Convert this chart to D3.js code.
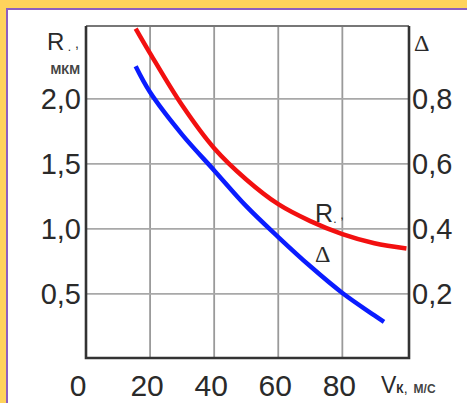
<!DOCTYPE html>
<html>
<head>
<meta charset="utf-8">
<script src="https://cdn.jsdelivr.net/npm/d3@7"></script>
<style>
    body { margin: 0; background: #ffd35c; }
    svg { display: block; }
    svg text { font-family: "Liberation Sans", Arial, sans-serif; fill: #2a2a2a; }
</style>
</head>
<body>
<svg id="chart"></svg>
<script>
// values
let speed = [15.5, 20, 30, 40, 50, 60, 70, 80, 90, 100];
let roughness = [2.54, 2.35, 1.95, 1.62, 1.38, 1.19, 1.06, 0.96, 0.89, 0.85];

let speedDelta = [15.5, 20, 30, 40, 50, 60, 70, 80, 90, 93];
let delta = [0.90, 0.82, 0.69, 0.58, 0.47, 0.375, 0.285, 0.203, 0.134, 0.114];

let xTicks = [0, 20, 40, 60, 80];
let leftTicks = [0.5, 1.0, 1.5, 2.0];
let rightTicks = [0.2, 0.4, 0.6, 0.8];

let width = 467;
let height = 403;

let svg = d3.select("#chart")
    .attr("width", width)
    .attr("height", height);

// white panel with purple edge
svg.append("rect")
    .attr("x", 7)
    .attr("y", 9)
    .attr("width", width)
    .attr("height", height)
    .attr("fill", "white")
    .attr("stroke", "#8d5fc0")
    .attr("stroke-width", 2);

let x = d3.scaleLinear().domain([0, 100.8]).range([86, 409]);
let yLeft = d3.scaleLinear().domain([0, 2.56]).range([359, 26]);
let yRight = d3.scaleLinear().domain([0, 2.56 / 2.5]).range([359, 26]);

let plotTop = yLeft(2.56);
let plotBottom = 358;
let plotLeft = x(0);
let plotRight = 409;

// GRID
svg.append("g")
    .selectAll("line")
    .data(xTicks.filter(d => d > 0))
    .enter()
    .append("line")
    .attr("x1", d => x(d))
    .attr("x2", d => x(d))
    .attr("y1", plotTop)
    .attr("y2", plotBottom)
    .attr("stroke", "#9a9a9a")
    .attr("stroke-width", 1.8);

svg.append("g")
    .selectAll("line")
    .data(leftTicks)
    .enter()
    .append("line")
    .attr("x1", plotLeft)
    .attr("x2", plotRight)
    .attr("y1", d => yLeft(d))
    .attr("y2", d => yLeft(d))
    .attr("stroke", "#a8a8a8")
    .attr("stroke-width", 1.8);

// top border
svg.append("line")
    .attr("x1", plotLeft).attr("x2", plotRight)
    .attr("y1", plotTop).attr("y2", plotTop)
    .attr("stroke", "#777").attr("stroke-width", 2);

// axis frame
svg.append("path")
    .attr("d", `M${plotLeft},${plotTop} L${plotLeft},${plotBottom} L${plotRight},${plotBottom} L${plotRight},${plotTop}`)
    .attr("fill", "none")
    .attr("stroke", "#333")
    .attr("stroke-width", 2.6);

// CURVES
let lineR = d3.line()
    .x((d, i) => x(speed[i]))
    .y(d => yLeft(d))
    .curve(d3.curveCatmullRom.alpha(0.5));

let lineD = d3.line()
    .x((d, i) => x(speedDelta[i]))
    .y(d => yRight(d))
    .curve(d3.curveCatmullRom.alpha(0.5));

svg.append("path")
    .attr("d", lineR(roughness))
    .attr("fill", "none")
    .attr("stroke", "#f21010")
    .attr("stroke-width", 4.5);

svg.append("path")
    .attr("d", lineD(delta))
    .attr("fill", "none")
    .attr("stroke", "#0a1cff")
    .attr("stroke-width", 4.5);

// TICK LABELS
svg.append("g")
    .selectAll("text")
    .data(leftTicks)
    .enter()
    .append("text")
    .attr("x", 81)
    .attr("y", d => yLeft(d) + 10)
    .attr("text-anchor", "end")
    .style("font-size", "29px")
    .text(d => d.toFixed(1).replace(".", ","));

svg.append("g")
    .selectAll("text")
    .data(rightTicks)
    .enter()
    .append("text")
    .attr("x", 412)
    .attr("y", d => yRight(d) + 10)
    .style("font-size", "29px")
    .text(d => d.toFixed(1).replace(".", ","));

svg.append("g")
    .selectAll("text")
    .data(xTicks)
    .enter()
    .append("text")
    .attr("x", d => d == 0 ? x(d) - 8 : x(d) - 3)
    .attr("y", 396)
    .attr("text-anchor", "middle")
    .style("font-size", "30px")
    .text(d => d);

// AXIS TITLES
let rTitle = svg.append("text")
    .attr("x", 47)
    .attr("y", 50)
    .style("font-size", "24px")
    .text("R");
rTitle.append("tspan").attr("dy", 1).style("font-size", "12px").text(" .");
rTitle.append("tspan").attr("dy", -3).style("font-size", "14px").text(" ,");

svg.append("text")
    .attr("x", 80)
    .attr("y", 74)
    .attr("text-anchor", "end")
    .style("font-size", "13px")
    .style("font-weight", "bold")
    .style("fill", "#444")
    .text("МКМ");

svg.append("text")
    .attr("x", 414)
    .attr("y", 51)
    .style("font-size", "24px")
    .style("font-family", "Liberation Serif, serif")
    .text("Δ");

let vTitle = svg.append("text")
    .attr("x", 381)
    .attr("y", 393)
    .style("font-size", "23px")
    .text("V");
vTitle.append("tspan").style("font-size", "12px").style("font-weight", "bold").text("К");
vTitle.append("tspan").style("font-size", "14px").text(",");
vTitle.append("tspan").attr("dx", 6).style("font-size", "12px").style("font-weight", "bold").style("fill", "#444").text("М/С");

// CURVE LABELS
let rLabel = svg.append("text")
    .attr("x", x(71.5))
    .attr("y", 222)
    .style("font-size", "25px")
    .text("R");
rLabel.append("tspan").attr("dy", 1).style("font-size", "12px").text(".");
rLabel.append("tspan").attr("dy", -4).style("font-size", "13px").text(" ,");

svg.append("text")
    .attr("x", x(71.5))
    .attr("y", 262)
    .style("font-size", "24px")
    .style("font-family", "Liberation Serif, serif")
    .text("Δ");
</script>
</body>
</html>
